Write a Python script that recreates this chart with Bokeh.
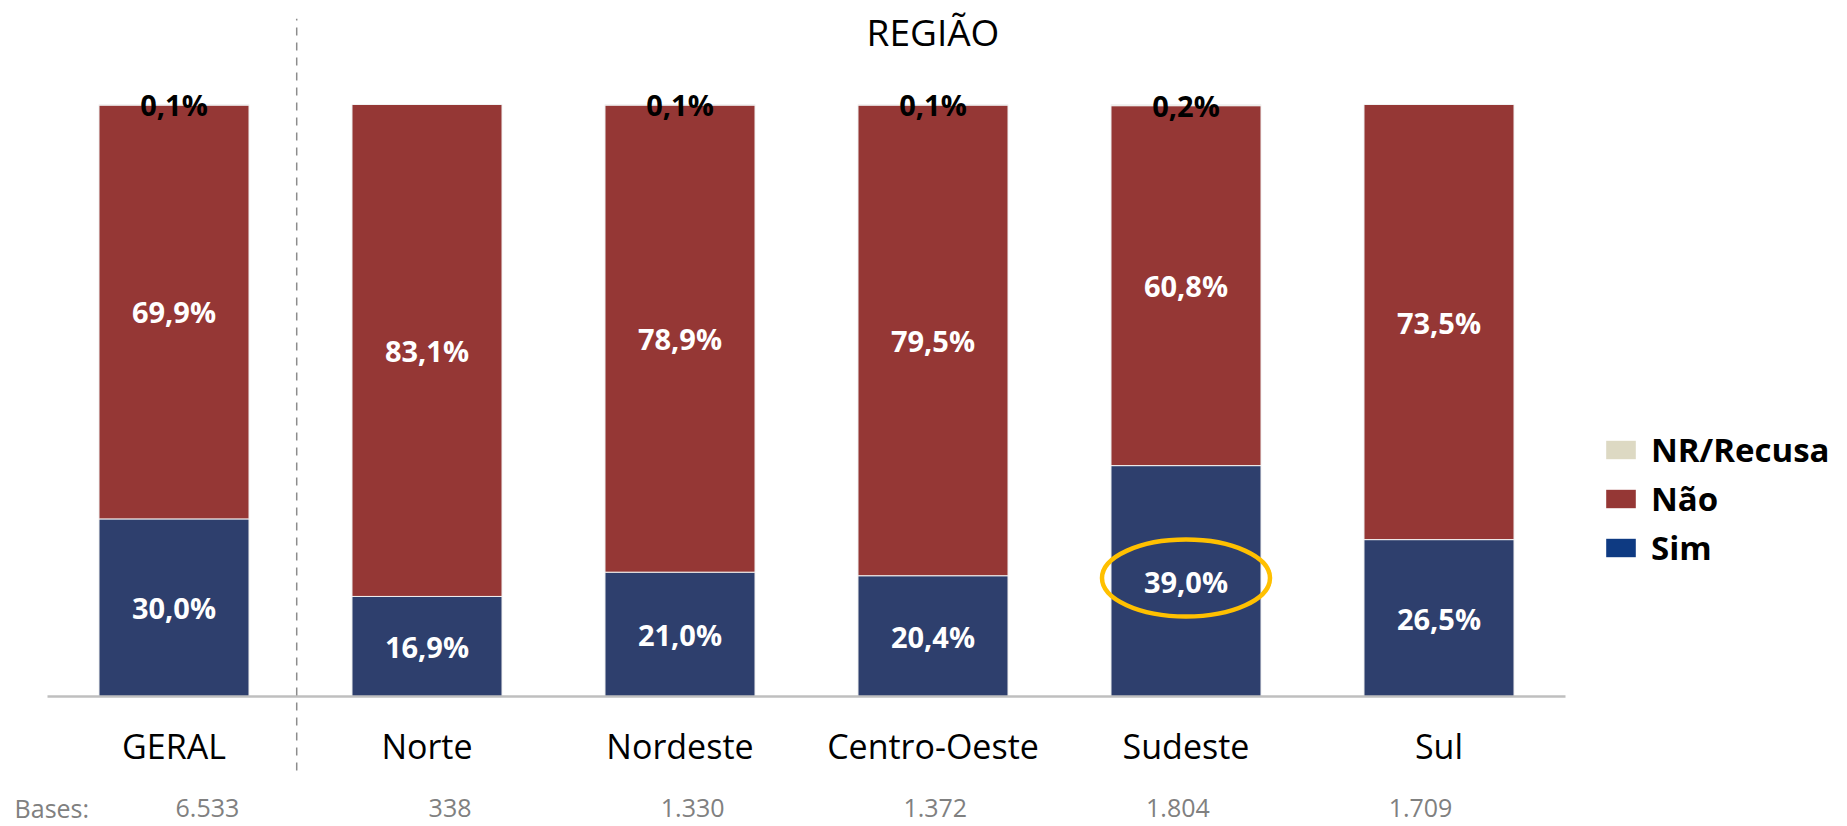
from bokeh.plotting import figure
from bokeh.models import ColumnDataSource, Range1d, Legend, LegendItem
from bokeh.core.properties import value
from bokeh.embed import file_html
from bokeh.resources import INLINE

# ---- data ----
categories = ["GERAL", "Norte", "Nordeste", "Centro-Oeste", "Sudeste", "Sul"]
sim = [30.0, 16.9, 21.0, 20.4, 39.0, 26.5]
nao = [69.9, 83.1, 78.9, 79.5, 60.8, 73.5]
nr = [0.1, 0.0, 0.1, 0.1, 0.2, 0.0]
bases = [6533, 338, 1330, 1372, 1804, 1709]
title_text = "REGIÃO"
highlight = "Sudeste"

# ---- style ----
C_SIM = "#2E3F6D"
C_NAO = "#953735"
C_NR = "#DDD9C3"
C_SIM_LEG = "#0E3A82"
FONT = value("Open Sans")

W, H = 1847, 826
X0_PX, UNIT_PX = 47, 253.0      # x=0 at 47px, one category = 253px
Y0_PX, PCT_PX = 696, 5.92       # y=0 at 696px from top

p = figure(width=W, height=H, output_backend="svg", toolbar_location=None,
           min_border=0, x_axis_type=None, y_axis_type=None)
p.x_range = Range1d(-X0_PX / UNIT_PX, (W - X0_PX) / UNIT_PX)
p.y_range = Range1d(-(H - Y0_PX) / PCT_PX, Y0_PX / PCT_PX)
p.xgrid.visible = False
p.ygrid.visible = False
p.outline_line_color = None
p.background_fill_color = "white"
p.border_fill_color = "white"

n = len(categories)
xs = [i + 0.5 for i in range(n)]


def fmt(v):
    return f"{v:.1f}%".replace(".", ",")


src = ColumnDataSource(dict(x=xs, sim=sim, nao=nao, nr=nr))
p.vbar_stack(["sim", "nao", "nr"], x="x", width=0.593, source=src,
             fill_color=[C_SIM, C_NAO, C_NR], line_color="#F2F2F2", line_width=1)

# baseline (category axis line)
p.segment(x0=[0], y0=[0], x1=[n], y1=[0], line_color="#BFBFBF", line_width=2.5)

# dashed separator between GERAL and regions
p.segment(x0=[0.985], y0=[-12.5], x1=[0.985], y1=[114.5], line_color="#8C8C8C",
          line_width=1.5, line_dash="8 7")

# value labels
sim_lab = ColumnDataSource(dict(x=xs, y=[s / 2 for s in sim], t=[fmt(s) for s in sim]))
nao_lab = ColumnDataSource(dict(x=xs, y=[s + v / 2 for s, v in zip(sim, nao)], t=[fmt(v) for v in nao]))
nr_idx = [i for i in range(n) if nr[i] > 0]
nr_lab = ColumnDataSource(dict(x=[xs[i] for i in nr_idx],
                               y=[sim[i] + nao[i] + nr[i] / 2 for i in nr_idx],
                               t=[fmt(nr[i]) for i in nr_idx]))
for s, col in [(sim_lab, "white"), (nao_lab, "white"), (nr_lab, "black")]:
    p.text(x="x", y="y", text="t", source=s, text_font=FONT, text_font_style="bold",
           text_font_size=value("29px"), text_color=col, text_align="center",
           text_baseline="middle")

# highlight ellipse around Sudeste "Sim"
hi = categories.index(highlight)
p.ellipse(x=[xs[hi]], y=[sim[hi] / 2 + 0.5], width=168, height=77, width_units="screen",
          height_units="screen", fill_color=None, line_color="#FFC000", line_width=4.5)

# category labels
p.text(x=xs, y=[-8.3] * n, text=categories, text_font=FONT, text_font_size=value("34px"),
       text_color="black", text_align="center", text_baseline="middle")

# title
p.text(x=[(1 + n) / 2], y=[112.3], text=[title_text], text_font=FONT,
       text_font_size=value("37px"), text_color="black", text_align="center",
       text_baseline="middle")

# bases
p.text(x=[-0.13], y=[-18.9], text=["Bases:"], text_font=FONT, text_font_size=value("25px"),
       text_color="#808080", text_align="left", text_baseline="middle")
p.text(x=[0.632 + 0.959 * i for i in range(n)], y=[-18.9] * n,
       text=[f"{b:,}".replace(",", ".") for b in bases], text_font=FONT,
       text_font_size=value("25px"), text_color="#808080", text_align="center",
       text_baseline="middle")

# legend (swatches as in the original; zero-height bars carry the swatch colours)
leg_colors = {"NR/Recusa": C_NR, "Não": C_NAO, "Sim": C_SIM_LEG}
items = []
for name in ["NR/Recusa", "Não", "Sim"]:
    r = p.vbar(x=[xs[0]], top=[0], bottom=[0], width=0.0, fill_color=leg_colors[name],
               line_color=None)
    items.append(LegendItem(label=name, renderers=[r]))
legend = Legend(items=items, location=(1602, 256), orientation="vertical",
                glyph_width=37, glyph_height=23, label_standoff=12, spacing=4,
                padding=0, margin=0, border_line_color=None, background_fill_alpha=0,
                label_text_font="Open Sans", label_text_font_style="bold",
                label_text_font_size="33px", label_text_color="black")
p.add_layout(legend)

open("out.html", "w").write(file_html(p, INLINE))
